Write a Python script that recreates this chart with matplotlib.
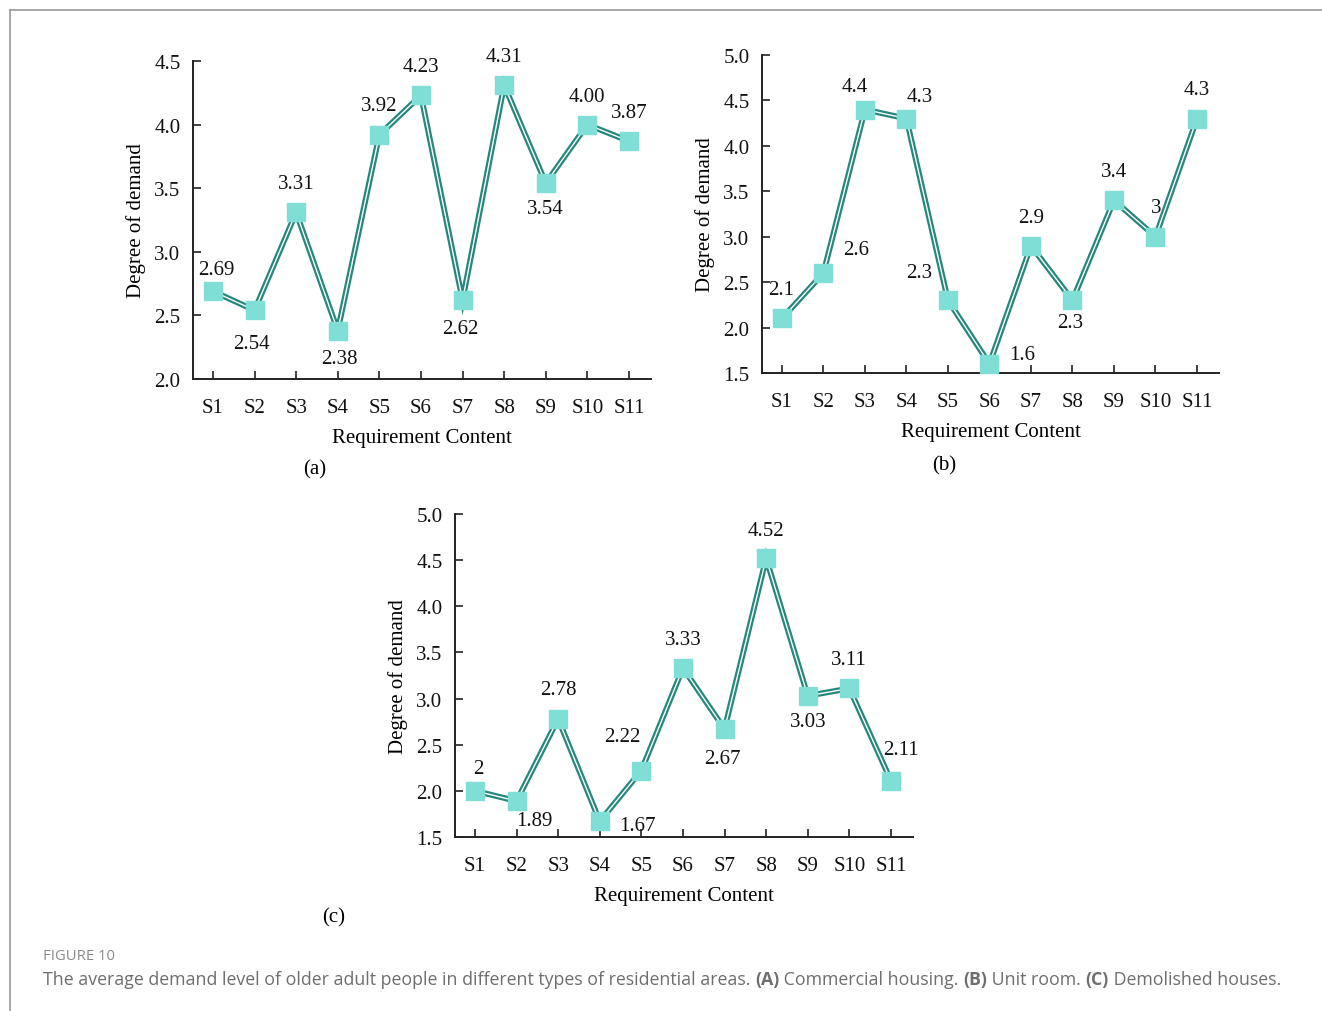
import numpy as np
import matplotlib.pyplot as plt
from matplotlib.lines import Line2D

plt.rcParams['font.family'] = ['Liberation Serif', 'DejaVu Serif']

categories = ['S1', 'S2', 'S3', 'S4', 'S5', 'S6', 'S7', 'S8', 'S9', 'S10', 'S11']

vals_a = [2.69, 2.54, 3.31, 2.38, 3.92, 4.23, 2.62, 4.31, 3.54, 4.00, 3.87]
text_a = ['2.69', '2.54', '3.31', '2.38', '3.92', '4.23', '2.62', '4.31', '3.54', '4.00', '3.87']
vals_b = [2.1, 2.6, 4.4, 4.3, 2.3, 1.6, 2.9, 2.3, 3.4, 3.0, 4.3]
text_b = ['2.1', '2.6', '4.4', '4.3', '2.3', '1.6', '2.9', '2.3', '3.4', '3', '4.3']
vals_c = [2.0, 1.89, 2.78, 1.67, 2.22, 3.33, 2.67, 4.52, 3.03, 3.11, 2.11]
text_c = ['2', '1.89', '2.78', '1.67', '2.22', '3.33', '2.67', '4.52', '3.03', '3.11', '2.11']

# label offsets in pixels (dx, dy), up is positive
offs_a = [(3, 24), (-3, -31), (0, 31), (2, -26), (0, 31), (0, 31),
          (-2, -26), (0, 31), (0, -23), (0, 30), (0, 31)]
offs_b = [(-1, 31), (33, 26), (-10, 25), (13, 24), (-29, 30), (33, 11),
          (0, 30), (-2, -20), (0, 31), (1, 31), (0, 31)]
offs_c = [(3, 24), (18, -17), (0, 31), (38, -2), (-19, 36), (0, 31),
          (-2, -27), (0, 30), (0, -24), (-1, 31), (10, 33)]

W, H = 1322, 1012
fig = plt.figure(figsize=(W / 100, H / 100), dpi=100)

TEAL = '#26887c'
FILL = '#7fded6'
FS = 15


def px_axes(left, right, top, bottom):
    return fig.add_axes([left / W, 1 - bottom / H, (right - left) / W, (bottom - top) / H])


def panel(ax, vals, texts, offs, ylim, yticks, tag, tag_xy):
    x = np.arange(1, len(vals) + 1)
    ax.plot(x, vals, color=TEAL, lw=4.2, solid_joinstyle='miter', zorder=2)
    ax.plot(x, vals, color='white', lw=1.0, solid_joinstyle='miter', zorder=3)
    ax.plot(x, vals, 's', ms=13, color=FILL, mec=FILL, zorder=4, clip_on=False)
    for xi, v, t, (dx, dy) in zip(x, vals, texts, offs):
        ax.annotate(t, (xi, v), xytext=(dx, dy - 2), textcoords='offset pixels',
                    ha='center', va='center', fontsize=FS, color='#111111')
    ax.set_xlim(0.52, 11.53)
    ax.set_ylim(*ylim)
    ax.set_yticks(yticks)
    ax.set_yticklabels(['%.1f' % t for t in yticks])
    ax.set_xticks(x)
    ax.set_xticklabels(categories)
    for s in ['top', 'right']:
        ax.spines[s].set_visible(False)
    for s in ['left', 'bottom']:
        ax.spines[s].set_linewidth(1.4)
        ax.spines[s].set_color('#222222')
    ax.tick_params(direction='in', length=6, width=1.2, labelsize=FS,
                   colors='#222222', labelcolor='#111111')
    ax.tick_params(axis='x', pad=13.8)
    ax.tick_params(axis='y', pad=9)
    ax.set_ylabel('Degree of demand', fontsize=FS, labelpad=6)
    ax.set_xlabel('Requirement Content', fontsize=FS, labelpad=8)
    fig.text(tag_xy[0] / W, 1 - (tag_xy[1] + 3) / H, tag, ha='center', va='center', fontsize=FS)


ax_a = px_axes(193, 651, 62, 380)
panel(ax_a, vals_a, text_a, offs_a, (2.0, 4.5), [2.0, 2.5, 3.0, 3.5, 4.0, 4.5], '(a)', (315, 467))

ax_b = px_axes(762, 1219, 56, 374)
panel(ax_b, vals_b, text_b, offs_b, (1.5, 5.0), [1.5, 2.0, 2.5, 3.0, 3.5, 4.0, 4.5, 5.0], '(b)', (944, 463))

ax_c = px_axes(455, 913, 515, 838)
panel(ax_c, vals_c, text_c, offs_c, (1.5, 5.0), [1.5, 2.0, 2.5, 3.0, 3.5, 4.0, 4.5, 5.0], '(c)', (334, 915))

# page frame
fig.add_artist(Line2D([10 / W, 1], [1 - 11 / H, 1 - 11 / H], transform=fig.transFigure, color='#9a9a9a', lw=1.2))
fig.add_artist(Line2D([10 / W, 10 / W], [1 - 11 / H, 0], transform=fig.transFigure, color='#9a9a9a', lw=1.2))

# caption
cap_font = ['Open Sans', 'DejaVu Sans']
fig.text(43 / W, 1 - 957 / H, 'FIGURE 10', fontsize=10.7, color='#8a8a8a',
         family=cap_font, va='center', ha='left')

pieces = [('The average demand level of older adult people in different types of residential areas. ', 'normal'),
          ('(A)', 'bold'), (' Commercial housing. ', 'normal'),
          ('(B)', 'bold'), (' Unit room. ', 'normal'),
          ('(C)', 'bold'), (' Demolished houses.', 'normal')]
fig.canvas.draw()
renderer = fig.canvas.get_renderer()
xpos = 43
for txt, wt in pieces:
    t = fig.text(xpos / W, 1 - 980 / H, txt, fontsize=12.75, color='#6e6e6e',
                 family=cap_font, weight=wt, va='center', ha='left')
    xpos += t.get_window_extent(renderer).width

fig.savefig('out.png', dpi=100)
